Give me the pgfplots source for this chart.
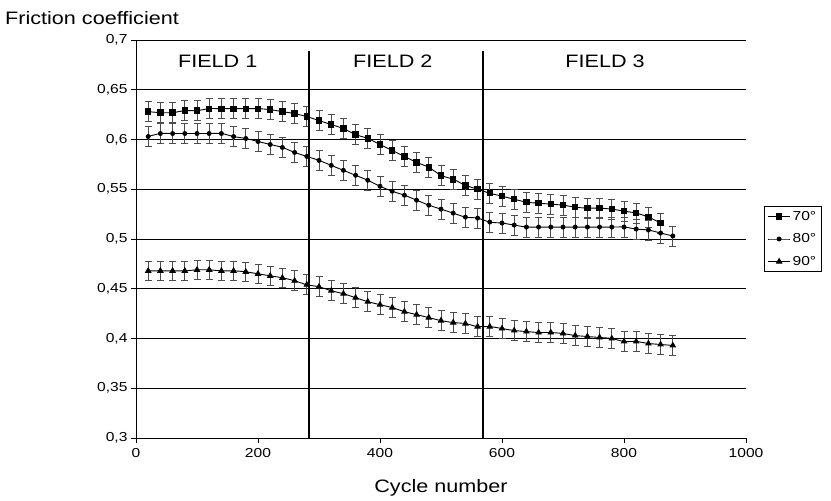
\documentclass[border=0pt]{standalone}
\usepackage{pgfplots}
\pgfplotsset{compat=1.18}
\usepackage{fontspec}
\setmainfont{Liberation Sans}[FakeStretch=1.2]
\begin{document}
\begin{tikzpicture}
\begin{axis}[
  name=ax,
  scale only axis,
  width=610pt, height=398pt,
  xmin=0, xmax=1000, ymin=0.3, ymax=0.7,
  axis x line=bottom, axis y line=left,
  axis line style={-, black, line width=0.8pt},
  xtick={0,200,400,600,800,1000},
  ytick={0.3,0.35,0.4,0.45,0.5,0.55,0.6,0.65,0.7},
  ymajorgrids, grid style={black, line width=0.8pt},
  tick align=outside, major tick length=5pt,
  tick style={black, line width=0.8pt},
  ticklabel style={font=\fontsize{13}{15}\selectfont},
  xticklabel style={/pgf/number format/1000 sep={}, /pgf/number format/assume math mode=true, yshift=-2pt},
  yticklabel style={/pgf/number format/.cd, use comma, fixed, precision=2, assume math mode=true},
  xlabel={Cycle number},
  xlabel style={font=\fontsize{18}{20}\selectfont, yshift=-15pt},
  legend style={at={(1.03,0.5)}, anchor=west, draw=black, line width=0.8pt,
    font=\fontsize{13}{15}\selectfont, row sep=8pt, inner sep=3pt},
  legend cell align=left,
  legend image code/.code={
    \draw[mark repeat=2, mark phase=2] plot coordinates {(0pt,0pt) (11pt,0pt) (22pt,0pt)};
  },
  every axis plot/.append style={black, line width=0.9pt, smooth},
  error bars/y dir=both, error bars/y fixed=0.01,
  error bars/error bar style={black!70, line width=0.7pt},
  error bars/error mark options={black!70, line width=0.7pt, mark size=3.5pt, rotate=90},
]
\addplot[mark=square*, mark size=2.7pt] coordinates {
(20,0.628) (40,0.627) (60,0.627) (80,0.629) (100,0.629) (120,0.631) (140,0.631)
(160,0.631) (180,0.631) (200,0.631) (220,0.630) (240,0.628) (260,0.626) (280,0.623)
(300,0.619) (320,0.615) (340,0.611) (360,0.605) (380,0.601) (400,0.595) (420,0.589)
(440,0.583) (460,0.577) (480,0.572) (500,0.564) (520,0.560) (540,0.554) (560,0.550)
(580,0.546) (600,0.543) (620,0.540) (640,0.537) (660,0.536) (680,0.535) (700,0.534)
(720,0.532) (740,0.531) (760,0.531) (780,0.530) (800,0.528) (820,0.526) (840,0.522)
(860,0.516)
};
\addlegendentry{70°}
\addplot[mark=*, mark size=2pt] coordinates {
(20,0.603) (40,0.606) (60,0.606) (80,0.606) (100,0.606) (120,0.606) (140,0.606)
(160,0.603) (180,0.601) (200,0.598) (220,0.595) (240,0.592) (260,0.587) (280,0.583)
(300,0.579) (320,0.574) (340,0.569) (360,0.564) (380,0.559) (400,0.553) (420,0.548)
(440,0.544) (460,0.539) (480,0.534) (500,0.530) (520,0.526) (540,0.522) (560,0.521)
(580,0.517) (600,0.516) (620,0.514) (640,0.512) (660,0.512) (680,0.512) (700,0.512)
(720,0.512) (740,0.512) (760,0.512) (780,0.512) (800,0.512) (820,0.510) (840,0.509)
(860,0.506) (880,0.503)
};
\addlegendentry{80°}
\addplot[mark=triangle*, mark size=3pt] coordinates {
(20,0.468) (40,0.468) (60,0.468) (80,0.468) (100,0.469) (120,0.469) (140,0.468)
(160,0.468) (180,0.467) (200,0.465) (220,0.463) (240,0.461) (260,0.458) (280,0.454)
(300,0.452) (320,0.448) (340,0.445) (360,0.441) (380,0.437) (400,0.434) (420,0.431)
(440,0.427) (460,0.424) (480,0.421) (500,0.418) (520,0.416) (540,0.415) (560,0.412)
(580,0.412) (600,0.410) (620,0.408) (640,0.407) (660,0.406) (680,0.406) (700,0.405)
(720,0.403) (740,0.402) (760,0.401) (780,0.400) (800,0.397) (820,0.397) (840,0.395)
(860,0.394) (880,0.393)
};
\addlegendentry{90°}
\draw[black, line width=2pt] (axis cs:284,0.3) -- (axis cs:284,0.689);
\draw[black, line width=2pt] (axis cs:568.8,0.3) -- (axis cs:568.8,0.689);
\node[font=\fontsize{18}{20}\selectfont] at (axis cs:134,0.679) {FIELD 1};
\node[font=\fontsize{18}{20}\selectfont] at (axis cs:421,0.679) {FIELD 2};
\node[font=\fontsize{18}{20}\selectfont] at (axis cs:769,0.679) {FIELD 3};
\end{axis}
\node[anchor=base west, inner sep=0, font=\fontsize{18}{20}\selectfont]
  at ([xshift=-131pt, yshift=15pt]ax.north west) {Friction coefficient};
\pgfresetboundingbox
\path ([xshift=-136pt, yshift=-62pt]ax.south west) rectangle ([xshift=85pt, yshift=40pt]ax.north east);
\end{tikzpicture}
\end{document}
